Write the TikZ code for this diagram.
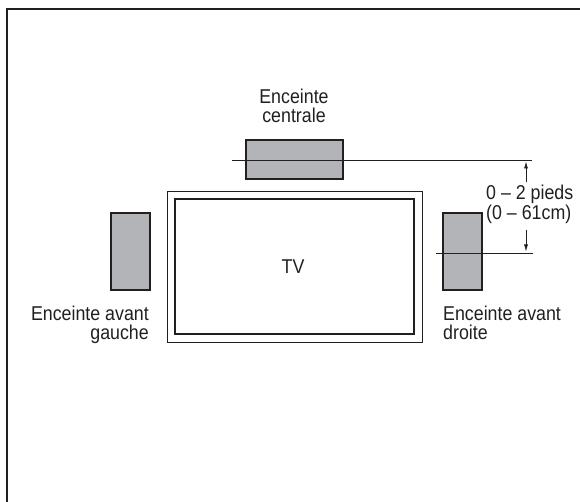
\documentclass[tikz,border=0pt]{standalone}
\usepackage{fontspec}
\setmainfont{Liberation Sans}[FakeStretch=0.89]
\usetikzlibrary{arrows.meta}
\definecolor{ink}{HTML}{231F20}
\definecolor{spk}{HTML}{B3B4B7}
\begin{document}
\begin{tikzpicture}[x=1pt,y=-1pt,
  speaker/.style={draw=ink,fill=spk,line width=1.3pt},
  guide/.style={draw=ink,line width=0.8pt},
  dim/.style={draw=ink,line width=0.7pt,-{Latex[length=7pt,width=4pt]}},
  lbl/.style={inner sep=0pt,font=\fontsize{20}{19}\selectfont,text=ink}]
\useasboundingbox (0,0) rectangle (580,502);
\clip (0,0) rectangle (580,502);
% outer frame
\draw[ink,line width=2pt] (7,520) -- (7,9) -- (600,9);
% TV
\draw[ink,line width=0.8pt] (167,191.5) rectangle (422,342);
\draw[ink,line width=1.8pt] (175,199) rectangle (414,334);
\node[lbl,anchor=base] (tv) at (293,273) {TV};
% speakers
\draw[speaker] (246,140) rectangle (343,179);
\node (c) at (294.5,159.5) {};
\draw[speaker] (111,213) rectangle (150,290);
\node (l) at (130.5,251.5) {};
\draw[speaker] (443,213) rectangle (482,290);
\node (r) at (462.5,251.5) {};
% guide lines
\coordinate (g1a) at (232,160);
\coordinate (g1b) at (532,160);
\coordinate (g2a) at (436,253);
\coordinate (g2b) at (533,253);
\draw[guide] (g1a) -- (g1b);
\draw[guide] (g2a) -- (g2b);
% dimension arrows
\coordinate (a1s) at (526,182);
\coordinate (a1e) at (526,161.5);
\coordinate (a2s) at (526,230);
\coordinate (a2e) at (526,251.5);
\draw[dim] (a1s) -- (a1e);
\draw[dim] (a2s) -- (a2e);
% labels (base = baseline of last line)
\node[lbl,anchor=base,align=center] (tc) at (294,122.5) {Enceinte\\centrale};
\node[lbl,anchor=base east,align=right] (tl) at (149,339) {Enceinte avant\\gauche};
\node[lbl,anchor=base west,align=left] (tr) at (443,339) {Enceinte avant\\droite};
\node[lbl,anchor=base west,align=left,font=\fontsize{20}{20}\selectfont] (td) at (486,220) {0 -- 2 pieds\\(0 -- 61cm)};
\end{tikzpicture}
\end{document}
